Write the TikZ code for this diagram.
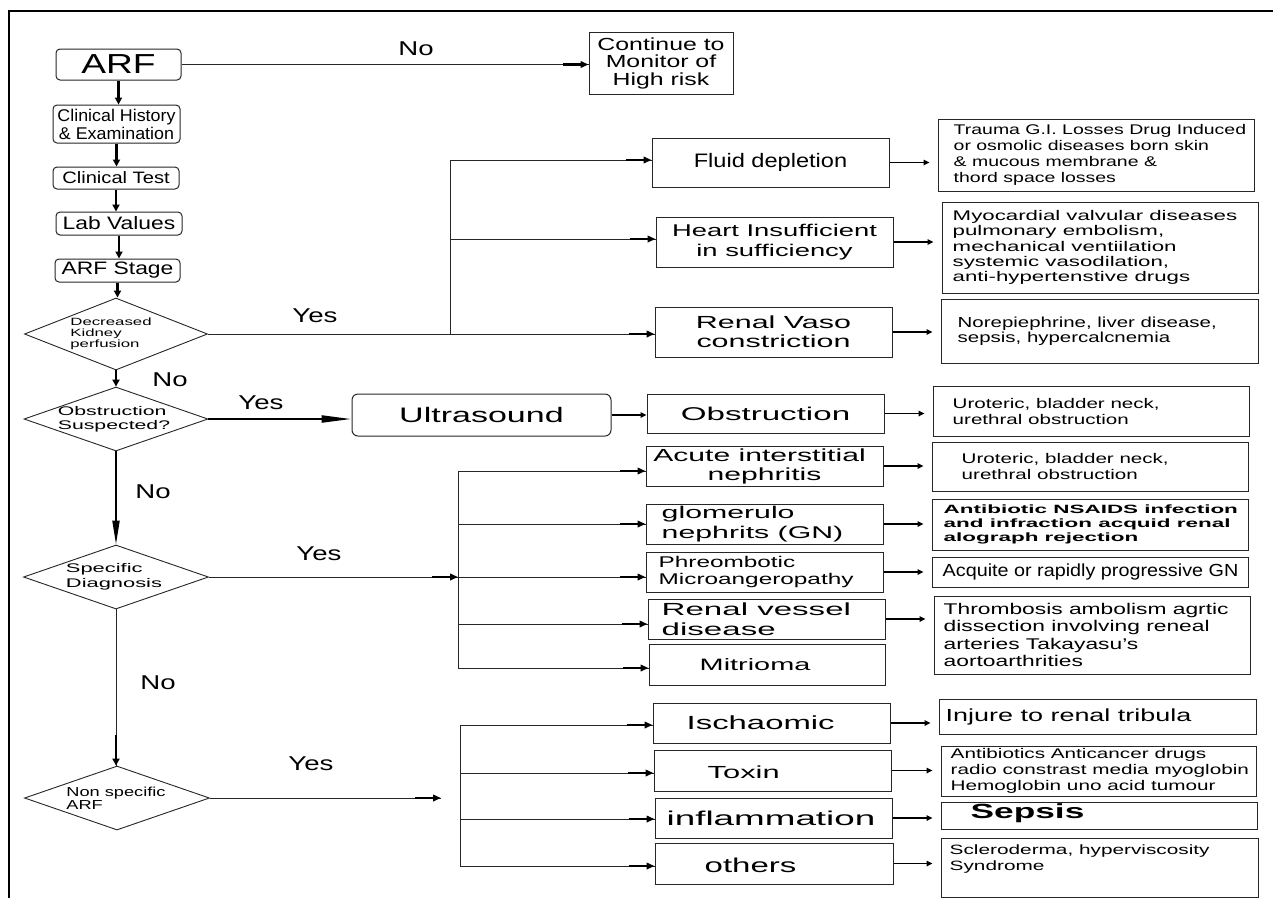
\documentclass[tikz,border=0pt]{standalone}
\usepackage{fontspec}
\setmainfont{Liberation Sans}
\usetikzlibrary{shapes.geometric,arrows.meta,calc}

% stretched Liberation Sans: {stretch}{size}{baselineskip}
\newcommand\ff[3]{\fontspec{Liberation Sans}[FakeStretch=#1]\fontsize{#2pt}{#3pt}\selectfont}

% rectangle given by its corners: [options]{name}{x1}{y1}{x2}{y2}{text}
\newcommand\bx[7][]{%
  \pgfmathsetmacro\bxw{#5-#3}\pgfmathsetmacro\bxh{#6-#4}%
  \pgfmathsetmacro\bxx{(#3+#5)/2}\pgfmathsetmacro\bxy{(#4+#6)/2}%
  \node[box,minimum width=\bxw pt,minimum height=\bxh pt,#1] (#2) at (\bxx,\bxy) {#7};}

% thin connector ending in a thick arrow segment
\newcommand\harr[2]{\draw[ln] (#1) -- (#2); \draw[hd] ($(#2)+(-26,0)$) -- (#2);}

\begin{document}
\begin{tikzpicture}[x=1pt,y=-1pt,
  box/.style={draw=black!85, line width=1pt, inner sep=0pt, align=center},
  rbox/.style={rounded corners=4pt},
  dec/.style={diamond, draw=black!85, line width=0.9pt, inner sep=0pt},
  tl/.style={anchor=west, inner sep=0pt, align=left},
  ln/.style={draw=black!85, line width=0.9pt},
  hd/.style={line width=2.4pt, -{Triangle[length=8pt,width=6.5pt]}},
  sarr/.style={line width=1.5pt, -{Triangle[length=6pt,width=5.5pt]}, shorten >=8pt},
  thk/.style={line width=2.2pt, -{Triangle[length=7pt,width=7pt]}},
  lbl/.style={inner sep=0pt, font=\ff{1.38}{20}{22}},
]
\useasboundingbox (0,0) rectangle (1273,898);
\fill[white] (0,0) rectangle (1273,898);

% frame
\draw[line width=1.6pt] (9,898) -- (9,11) -- (1273,11);

% left column
\bx[rbox,font=\ff{1.35}{27.5}{30}]{arf}{56}{49}{181}{80}{ARF}
\bx[font=\ff{1.42}{17.5}{17.5}]{cont}{589}{32}{733}{94}{Continue to\\Monitor of\\High risk}
\bx[rbox,font=\ff{1.05}{17}{18}]{hist}{53}{105}{180}{143}{Clinical History\\\& Examination}
\bx[rbox,font=\ff{1.22}{16.5}{18}]{test}{53}{167}{179}{189}{Clinical Test}
\bx[rbox,font=\ff{1.27}{18}{20}]{lab}{56}{212}{182}{235}{Lab Values}
\bx[rbox,font=\ff{1.27}{18}{20}]{stage}{55}{259}{180}{282}{ARF Stage}

% decisions
\node[dec,minimum width=183pt,minimum height=72pt,
  label={[inner sep=0pt,align=left,xshift=-5pt,font=\ff{1.6}{10.5}{11}]center:{Decreased\\Kidney\\perfusion}}] (d1) at (116,334) {};
\node[dec,minimum width=184pt,minimum height=64pt,
  label={[inner sep=0pt,align=left,xshift=-2pt,font=\ff{1.7}{12.5}{14.3}]center:{Obstruction\\Suspected?}}] (d2) at (116,419) {};
\node[dec,minimum width=185pt,minimum height=64pt,
  label={[inner sep=0pt,align=left,xshift=-2pt,font=\ff{1.75}{12.5}{14.7}]center:{Specific\\Diagnosis}}] (d3) at (116,577) {};
\node[dec,minimum width=185pt,minimum height=64pt,
  label={[inner sep=0pt,align=left,xshift=-1pt,font=\ff{1.4}{13}{13.3}]center:{Non specific\\ARF}}] (d4) at (117,798) {};

% first branch
\bx[font=\ff{1.21}{19.5}{21}]{fluid}{652}{138}{889}{187}{Fluid depletion}
\bx[font=\ff{1.61}{17}{20.7}]{heart}{656}{217}{893}{267}{Heart Insufficient\\in sufficiency}
\bx[font=\ff{1.74}{17.5}{19.3}]{rvaso}{655}{307}{892}{357}{Renal Vaso\\constriction}
\bx[label={[tl,xshift=16pt,font=\ff{1.39}{14}{16}]west:{Trauma G.I. Losses Drug Induced\\or osmolic diseases born skin\\\& mucous membrane \&\\thord space losses}}]{trauma}{938}{119}{1254}{191}{}
\bx[label={[tl,xshift=11pt,font=\ff{1.59}{14}{15.3}]west:{Myocardial valvular diseases\\pulmonary embolism,\\mechanical ventiilation\\systemic vasodilation,\\anti-hypertenstive drugs}}]{myo}{942}{202}{1258}{293}{}
\bx[label={[tl,xshift=17pt,font=\ff{1.41}{14.5}{15}]west:{Norepiephrine, liver disease,\\sepsis, hypercalcnemia}}]{norepi}{941}{299}{1258}{363}{}

% obstruction
\bx[rounded corners=6pt,font=\ff{1.62}{21}{23}]{us}{352}{394}{611}{436}{Ultrasound}
\bx[font=\ff{1.79}{18.5}{20}]{obs}{647}{394}{884}{433}{Obstruction}
\bx[label={[tl,xshift=20pt,font=\ff{1.47}{14}{16}]west:{Uroteric, bladder neck,\\urethral obstruction}}]{uro1}{933}{386}{1249}{436}{}

% specific diagnosis
\bx[font=\ff{1.72}{17.5}{19}]{ain}{646}{446}{883}{486}{\hspace*{-10pt}Acute interstitial\\nephritis}
\bx[label={[tl,xshift=16pt,font=\ff{1.78}{17}{20}]west:{glomerulo\\nephrits (GN)}}]{glom}{646}{504}{883}{544}{}
\bx[label={[tl,xshift=13pt,font=\ff{1.57}{15.5}{17.3}]west:{Phreombotic\\Microangeropathy}}]{phr}{646}{552}{883}{592}{}
\bx[label={[tl,xshift=14pt,font=\ff{1.89}{17.5}{20}]west:{Renal vessel\\disease}}]{rvd}{648}{599}{885}{639}{}
\bx[label={[tl,xshift=51pt,font=\ff{1.75}{16.5}{18}]west:{Mitrioma}}]{mit}{649}{644}{885}{685}{}
\bx[label={[tl,xshift=30pt,font=\ff{1.47}{14}{16}]west:{Uroteric, bladder neck,\\urethral obstruction}}]{uro2}{932}{442}{1248}{491}{}
\bx[label={[tl,xshift=12pt,font=\ff{1.87}{12}{14.2}\bfseries]west:{Antibiotic NSAIDS infection\\and infraction acquid renal\\alograph rejection}}]{anti}{932}{499}{1248}{550}{}
\bx[label={[tl,xshift=11pt,font=\ff{1.13}{17.5}{19}]west:{Acquite or rapidly progressive GN}}]{acq}{932}{557}{1248}{587}{}
\bx[label={[tl,xshift=10pt,font=\ff{1.47}{15.5}{17.3}]west:{Thrombosis ambolism agrtic\\dissection involving reneal\\arteries Takayasu’s\\aortoarthrities}}]{thr}{934}{596}{1250}{674}{}

% non specific
\bx[label={[tl,xshift=34pt,font=\ff{1.73}{19}{21}]west:{Ischaomic}}]{isch}{653}{703}{890}{743}{}
\bx[label={[tl,xshift=54pt,yshift=-2pt,font=\ff{1.76}{17.5}{19}]west:{Toxin}}]{tox}{654}{750}{891}{791}{}
\bx[label={[tl,xshift=12pt,font=\ff{1.84}{20}{22}]west:{inflammation}}]{infl}{655}{798}{892}{838}{}
\bx[label={[tl,xshift=50pt,yshift=-2pt,font=\ff{1.65}{20}{22}]west:{others}}]{oth}{655}{843}{893}{884}{}
\bx[label={[tl,xshift=7pt,font=\ff{1.54}{17.5}{19}]west:{Injure to renal tribula}}]{inj}{939}{699}{1256}{734}{}
\bx[label={[tl,xshift=10pt,font=\ff{1.48}{14}{16}]west:{Antibiotics Anticancer drugs\\radio constrast media myoglobin\\Hemoglobin uno acid tumour}}]{abx}{941}{746}{1256}{796}{}
\bx[label={[tl,xshift=30pt,yshift=2pt,font=\ff{1.72}{20.5}{22}\bfseries]west:{Sepsis}}]{sep}{941}{802}{1257}{829}{}
\bx[label={[tl,xshift=9pt,yshift=8.5pt,font=\ff{1.54}{13.5}{16}]west:{Scleroderma, hyperviscosity\\Syndrome}}]{scl}{941}{838}{1258}{897}{}

% branch labels
\node[lbl] (no0) at (416,49) {No};
\node[lbl] (yes1) at (315,316) {Yes};
\node[lbl] (no1) at (170,380) {No};
\node[lbl] (yes2) at (261,403) {Yes};
\node[lbl] (no2) at (153,492) {No};
\node[lbl] (yes3) at (319,554) {Yes};
\node[lbl] (no3) at (158,683) {No};
\node[lbl] (yes4) at (311,764) {Yes};

% main column connectors
\harr{arf.east}{arf.east -| cont.west}
\draw[thk] (arf.south) -- (arf.south |- hist.north);
\draw[thk] (hist.south) -- (hist.south |- test.north);
\draw[thk] (test.south) -- (test.south |- lab.north);
\draw[thk] (lab.south) -- (lab.south |- stage.north);
\draw[thk] (stage.south) -- (stage.south |- d1.north);
\draw[thk] (d1.south) -- (d1.south |- d2.north);
\draw[line width=2.2pt, -{Triangle[length=30pt,width=7pt]}] (d2.east) -- (d2.east -| us.west);
\draw[line width=2pt, -{Triangle[length=24pt,width=7pt]}] (d2.south) -- (d2.south |- d3.north);
\draw[ln] (d3.south) -- (d3.south |- d4.north);
\draw[thk] ($(d3.south |- d4.north)+(0,-31)$) -- (d3.south |- d4.north);

% decreased kidney perfusion branches
\coordinate (j1) at (450,334);
\coordinate (j1a) at (450,160);
\coordinate (j1b) at (450,239);
\draw[ln] (j1) -- (j1a);
\harr{d1.east}{d1.east -| rvaso.west}
\harr{j1a}{j1a -| fluid.west}
\harr{j1b}{j1b -| heart.west}
\draw[sarr] (fluid.east) -- (fluid.east -| trauma.west);
\draw[sarr] (heart.east) -- (heart.east -| myo.west);
\draw[sarr] (rvaso.east) -- (rvaso.east -| norepi.west);

% obstruction branch
\draw[sarr,shorten >=0pt] (us.east) -- (us.east -| obs.west);
\draw[sarr] (obs.east) -- (obs.east -| uro1.west);

% specific diagnosis branches
\coordinate (j2) at (458,577);
\coordinate (j2a) at (458,471);
\coordinate (j2b) at (458,524);
\coordinate (j2d) at (458,624);
\coordinate (j2e) at (458,668);
\draw[ln] (j2a) -- (j2e);
\harr{d3.east}{j2}
\harr{j2a}{j2a -| ain.west}
\harr{j2b}{j2b -| glom.west}
\harr{j2}{j2 -| phr.west}
\harr{j2d}{j2d -| rvd.west}
\harr{j2e}{j2e -| mit.west}
\draw[sarr] (ain.east) -- (ain.east -| uro2.west);
\draw[sarr] (glom.east) -- (glom.east -| anti.west);
\draw[sarr] (phr.east) -- (phr.east -| acq.west);
\draw[sarr] (rvd.east) -- (rvd.east -| thr.west);

% non specific branches
\coordinate (j3in) at (441,798);
\coordinate (j3a) at (460,725);
\coordinate (j3b) at (460,773);
\coordinate (j3c) at (460,819);
\coordinate (j3d) at (460,866);
\harr{d4.east}{j3in}
\draw[ln] (j3a) -- (j3d);
\harr{j3a}{j3a -| isch.west}
\harr{j3b}{j3b -| tox.west}
\harr{j3c}{j3c -| infl.west}
\harr{j3d}{j3d -| oth.west}
\draw[sarr] (isch.east) -- (isch.east -| inj.west);
\draw[sarr] (tox.east) -- (tox.east -| abx.west);
\draw[sarr] (infl.east) -- (infl.east -| sep.west);
\draw[sarr] (oth.east) -- (oth.east -| scl.west);
\end{tikzpicture}
\end{document}
